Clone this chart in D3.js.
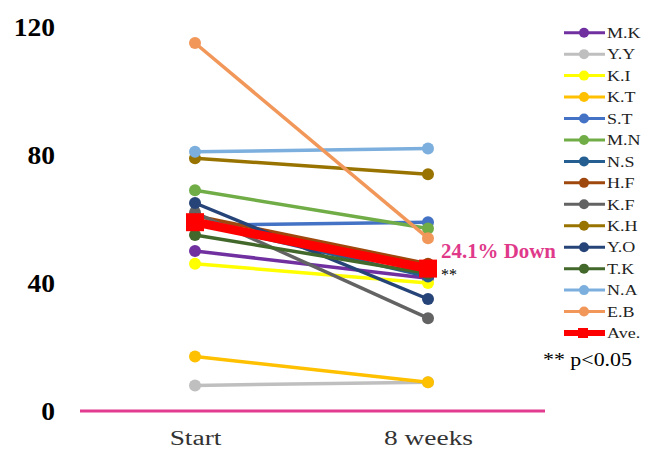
<!DOCTYPE html>
<html><head><meta charset="utf-8">
<script src="https://cdn.jsdelivr.net/npm/d3@7"></script>
<style>body{margin:0;background:#fff}svg{display:block}</style>
</head><body>
<script>
const categories = ["Start", "8 weeks"];
const seriesNames = ["M.K","Y.Y","K.I","K.T","S.T","M.N","N.S","H.F","K.F","K.H","Y.O","T.K","N.A","E.B","Ave."];
const seriesColors = ["#7030a0","#bfbfbf","#ffff00","#ffc000","#4472c4","#70ad47","#255e91","#9e480e","#636363","#997300","#264478","#43682b","#7cafdd","#f1975a","#ff0000"];
const startValues = [50, 8, 46, 17, 58, 69, 59, 61, 62, 79, 65, 55, 81, 115, 59];
const weekValues  = [41.5, 9, 40, 9, 59, 57, 42, 46, 29, 74, 35, 43, 82, 54, 44.5];
const yTicks = [0, 40, 80, 120];

const FONT = "'Liberation Serif', 'Times New Roman', serif";
const W = 656, H = 457;
const svg = d3.select("body").append("svg").attr("width", W).attr("height", H);
const y = d3.scaleLinear().domain([0, 120]).range([411, 27]);
const x = d3.scalePoint().domain(categories).range([195, 428]);

function stretch(sel, k) {
  sel.each(function() {
    const w = this.getComputedTextLength();
    d3.select(this).attr("textLength", w * k).attr("lengthAdjust", "spacingAndGlyphs");
  });
}

const yAxis = d3.axisLeft(y).tickValues(yTicks).tickSize(0).tickPadding(0);
const ga = svg.append("g").attr("transform", "translate(55,0)").call(yAxis);
ga.attr("font-family", null);
ga.select(".domain").remove();
ga.selectAll("text").style("font-family", FONT).style("font-size", "25px")
  .style("font-weight", "bold").attr("fill", "#000").attr("dy", "0.33em");
stretch(ga.selectAll("text"), 1.1);

const xAxis = d3.axisBottom(x).tickSize(0).tickPadding(0);
const gx = svg.append("g").attr("transform", "translate(0,445)").call(xAxis);
gx.attr("font-family", null);
gx.select(".domain").remove();
gx.selectAll("text").style("font-family", FONT).style("font-size", "20px")
  .attr("fill", "#333").attr("dy", 0);
stretch(gx.selectAll("text"), 1.37);

svg.append("line").attr("x1", 80).attr("x2", 545).attr("y1", y(0)).attr("y2", y(0))
  .attr("stroke", "#e23b8f").attr("stroke-width", 3);

const data = seriesNames.map((n, i) => ({name: n, color: seriesColors[i], vals: [startValues[i], weekValues[i]], ave: n === "Ave."}));
const line = d3.line().x((d, j) => x(categories[j])).y(d => y(d));

const gs = svg.append("g").selectAll("g").data(data).join("g");
gs.append("path").attr("d", d => line(d.vals)).attr("fill", "none")
  .attr("stroke", d => d.color).attr("stroke-width", d => d.ave ? 9 : 3.5);
gs.each(function(d) {
  const g = d3.select(this);
  d.vals.forEach((v, j) => {
    if (d.ave) {
      g.append("rect").attr("x", x(categories[j]) - 9).attr("y", y(v) - 9).attr("width", 18).attr("height", 18).attr("fill", d.color);
    } else {
      g.append("circle").attr("cx", x(categories[j])).attr("cy", y(v)).attr("r", 6).attr("fill", d.color);
    }
  });
});

svg.append("text").attr("x", 441).attr("y", 258).text("24.1% Down")
  .style("font-family", FONT).style("font-size", "21px").style("font-weight", "bold").attr("fill", "#e0398a")
  .attr("textLength", 115).attr("lengthAdjust", "spacingAndGlyphs");
svg.append("text").attr("x", 441).attr("y", 280).text("**")
  .style("font-family", FONT).style("font-size", "16px").attr("fill", "#000");
svg.append("text").attr("x", 543).attr("y", 366).text("** p<0.05")
  .style("font-family", FONT).style("font-size", "18px").attr("fill", "#000")
  .attr("textLength", 89).attr("lengthAdjust", "spacingAndGlyphs");

const lg = svg.append("g").selectAll("g").data(data).join("g")
  .attr("transform", (d, i) => `translate(0,${32.7 + i * 21.45})`);
lg.append("line").attr("x1", 564).attr("x2", 605).attr("y1", 0).attr("y2", 0)
  .attr("stroke", d => d.color).attr("stroke-width", d => d.ave ? 6 : 3);
lg.each(function(d) {
  const g = d3.select(this);
  if (d.ave) g.append("rect").attr("x", 578).attr("y", -5).attr("width", 10).attr("height", 10).attr("fill", d.color);
  else g.append("circle").attr("cx", 584).attr("cy", 0).attr("r", 5).attr("fill", d.color);
});
const lt = lg.append("text").attr("x", 607).attr("y", 0).attr("dy", "0.35em").text(d => d.name)
  .style("font-family", FONT).style("font-size", "15px").attr("fill", "#222");
stretch(lt, 1.2);
</script>
</body></html>
